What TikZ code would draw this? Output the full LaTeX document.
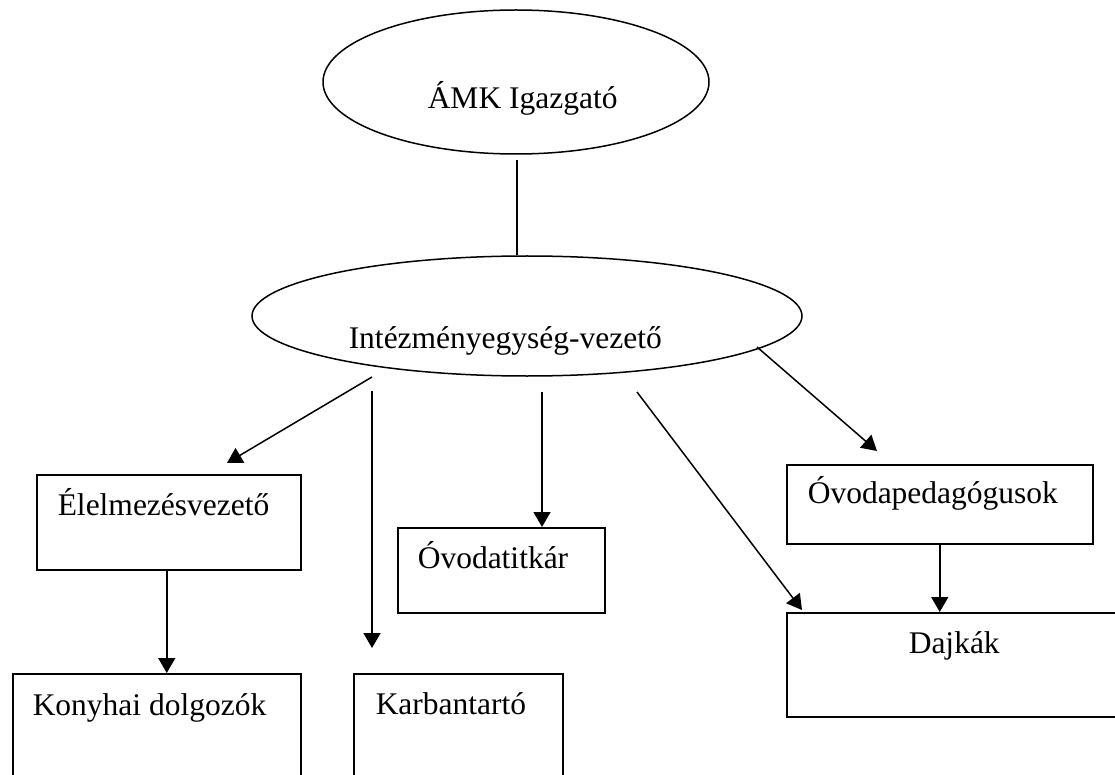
\documentclass[tikz,border=0pt]{standalone}
\usepackage{fontspec}
\setmainfont{Liberation Serif}
\usetikzlibrary{arrows.meta,shapes.geometric}
\begin{document}
\begin{tikzpicture}[x=1pt,y=-1pt,
  line width=1.5pt,
  lbl/.style={inner sep=0pt,anchor=base west,font=\fontsize{31.5}{38}\selectfont},
  ell/.style={draw,ellipse,inner sep=0pt},
  boxnode/.style={draw,rectangle,inner sep=0pt,anchor=north west},
  arr/.style={-{Triangle[length=15pt,width=17pt]}}]
\useasboundingbox (0,0) rectangle (1115,775);
\clip (0,0) rectangle (1115,775);
% ellipses
\node[ell,minimum width=386pt,minimum height=144pt] (top) at (516,82) {};
\node[ell,minimum width=550pt,minimum height=120pt] (mid) at (527,316) {};
% boxes
\node[boxnode,minimum width=264pt,minimum height=95pt] (elel) at (36,474) {};
\node[boxnode,minimum width=288pt,minimum height=130pt] (konyha) at (12,673) {};
\node[boxnode,minimum width=209pt,minimum height=130pt] (karban) at (353,673) {};
\node[boxnode,minimum width=207pt,minimum height=85pt] (titkar) at (397,527) {};
\node[boxnode,minimum width=306pt,minimum height=79pt] (ovped) at (786,464) {};
\node[boxnode,minimum width=340pt,minimum height=104pt] (dajka) at (786,612) {};
% texts
\node[lbl] (tTop) at (427,109) {ÁMK Igazgató};
\node[lbl] (tMid) at (348,348) {Intézményegység-vezető};
\node[lbl] (tElel) at (57,515) {Élelmezésvezető};
\node[lbl] (tKony) at (32,715) {Konyhai dolgozók};
\node[lbl] (tKarb) at (375,714) {Karbantartó};
\node[lbl] (tTitk) at (417,568) {Óvodatitkár};
\node[lbl] (tOvp) at (807,503) {Óvodapedagógusok};
\node[lbl] (tDajk) at (908,653) {Dajkák};
% free connector ends
\coordinate (c1s) at (517,160);
\coordinate (c2s) at (372,377);
\coordinate (c2e) at (227,463);
\coordinate (c3s) at (372,391);
\coordinate (c3e) at (372,648);
\coordinate (c4s) at (542,392);
\coordinate (c5s) at (637,392);
\coordinate (c5e) at (802,610);
\coordinate (c6s) at (757,347);
\coordinate (c6e) at (877,451);
% connectors
\draw (c1s) -- (c1s |- mid.north);
\draw[arr] (c2s) -- (c2e);
\draw[arr] (c3s) -- (c3e);
\draw[arr] (c4s) -- (c4s |- titkar.north);
\draw[arr] (c5s) -- (c5e);
\draw[arr] (c6s) -- (c6e);
\draw[arr] (ovped.south) -- (ovped.south |- dajka.north);
\draw[arr] ([xshift=-2pt]elel.south) -- ([xshift=-2pt]elel.south |- konyha.north);
\end{tikzpicture}
\end{document}
